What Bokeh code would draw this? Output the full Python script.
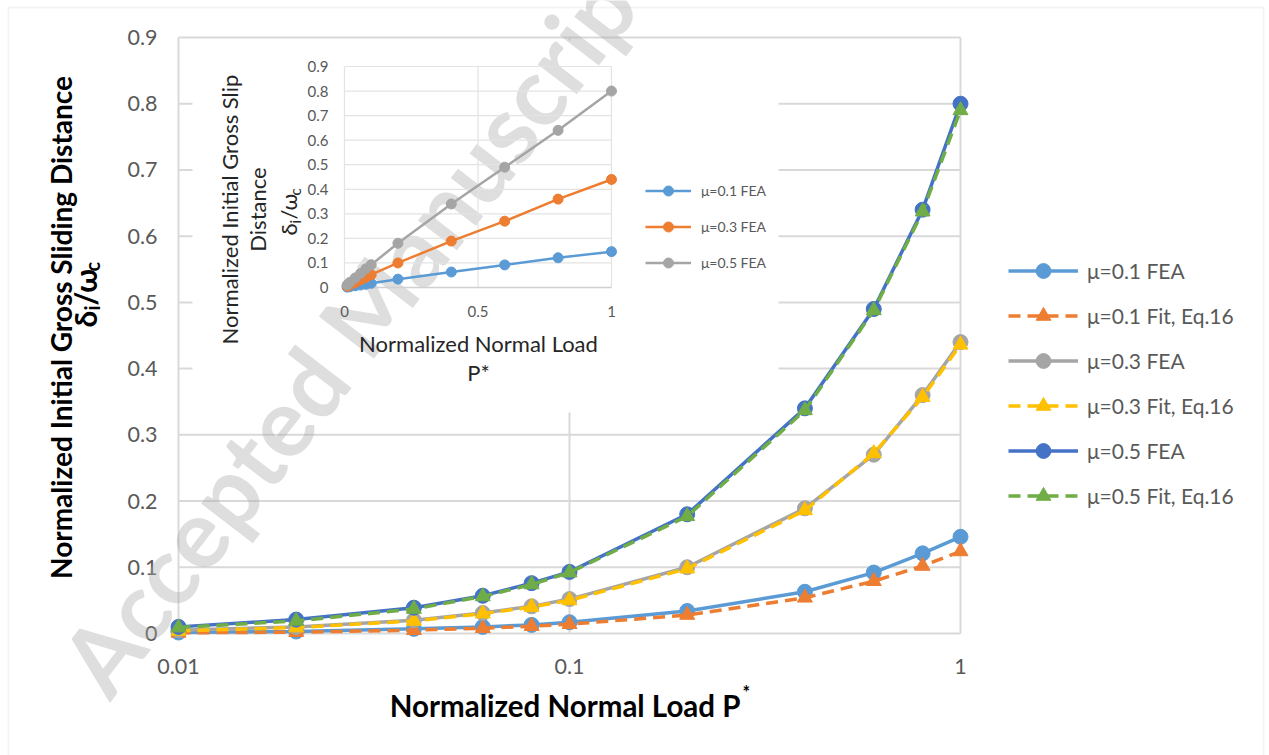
import math
from bokeh.plotting import figure
from bokeh.models import (Range1d, LinearScale, LogScale, Legend, LegendItem,
                          Label, BoxAnnotation)
from bokeh.core.properties import value
from bokeh.embed import file_html
from bokeh.resources import INLINE

# ---------------- data ----------------
P = [0.01, 0.02, 0.04, 0.06, 0.08, 0.1, 0.2, 0.4, 0.6, 0.8, 1.0]
mu01_fea = [0.0015, 0.003, 0.007, 0.010, 0.013, 0.017, 0.034, 0.063, 0.092, 0.121, 0.146]
mu01_fit = [0.001, 0.002, 0.005, 0.008, 0.011, 0.014, 0.028, 0.054, 0.079, 0.102, 0.124]
mu03_fea = [0.005, 0.010, 0.020, 0.031, 0.041, 0.052, 0.100, 0.189, 0.270, 0.360, 0.440]
mu03_fit = [0.004, 0.009, 0.019, 0.030, 0.040, 0.050, 0.098, 0.186, 0.272, 0.357, 0.436]
mu05_fea = [0.010, 0.021, 0.039, 0.057, 0.076, 0.093, 0.180, 0.340, 0.490, 0.640, 0.800]
mu05_fit = [0.009, 0.019, 0.037, 0.056, 0.074, 0.092, 0.177, 0.337, 0.488, 0.637, 0.790]

series_names = ["μ=0.1 FEA", "μ=0.1 Fit, Eq.16", "μ=0.3 FEA",
                "μ=0.3 Fit, Eq.16", "μ=0.5 FEA", "μ=0.5 Fit, Eq.16"]
inset_names = ["μ=0.1 FEA", "μ=0.3 FEA", "μ=0.5 FEA"]

X_TICKS = [0.01, 0.1, 1]
X_TICK_LABELS = ["0.01", "0.1", "1"]
Y_TICKS = [0, 0.1, 0.2, 0.3, 0.4, 0.5, 0.6, 0.7, 0.8, 0.9]
Y_TICK_LABELS = ["0", "0.1", "0.2", "0.3", "0.4", "0.5", "0.6", "0.7", "0.8", "0.9"]
INSET_X_TICKS = [0, 0.5, 1]
INSET_X_LABELS = ["0", "0.5", "1"]
INSET_Y_TICKS = [0, 0.1, 0.2, 0.3, 0.4, 0.5, 0.6, 0.7, 0.8, 0.9]
INSET_Y_LABELS = ["0", "0.1", "0.2", "0.3", "0.4", "0.5", "0.6", "0.7", "0.8", "0.9"]

# ---------------- layout constants (pixels) ----------------
W, H = 1269, 755
FL, FR, FT, FB = 178, 960, 37, 633          # main plot area
DEC = (FR - FL) / 2.0                        # px per decade
SY = (FB - FT) / 0.9                         # px per unit (main y)
IX0, IX1 = 344, 611                          # inset x=0 / x=1
IY0, IY9 = 287, 66                           # inset y=0 / y=0.9
ISX = IX1 - IX0
ISY = (IY0 - IY9) / 0.9

FONT = "Lato"
GRAY = "#595959"
GRID = "#d9d9d9"

p = figure(width=W, height=H, x_range=Range1d(0, W), y_range=Range1d(H, 0),
           x_axis_location=None, y_axis_location=None,
           output_backend="svg", toolbar_location=None,
           min_border=0, min_border_left=0, min_border_right=0,
           min_border_top=0, min_border_bottom=0)
p.outline_line_color = None
p.grid.visible = False
p.background_fill_color = "white"
p.border_fill_color = "white"

p.extra_x_ranges = {"main": Range1d(10 ** (-2 - FL / DEC), 10 ** ((W - FR) / DEC)),
                    "ins": Range1d(-IX0 / ISX, (W - IX0) / ISX)}
p.extra_y_ranges = {"main": Range1d((FB - H) / SY, FB / SY),
                    "ins": Range1d((IY0 - H) / ISY, IY0 / ISY)}
p.extra_x_scales = {"main": LogScale(), "ins": LinearScale()}
p.extra_y_scales = {"main": LinearScale(), "ins": LinearScale()}

def my(px):
    return (FB - px) / SY

def iy(px):
    return (IY0 - px) / ISY

M = dict(x_range_name="main", y_range_name="main")
I = dict(x_range_name="ins", y_range_name="ins")

# outer chart border
p.add_layout(BoxAnnotation(left=8, right=1263, top=7, bottom=H + 20,
                           fill_alpha=0, line_color=GRID, line_width=2,
                           level="underlay"))

# main grid + axis
p.segment(x0=[X_TICKS[0]] * len(Y_TICKS), x1=[X_TICKS[-1]] * len(Y_TICKS),
          y0=Y_TICKS, y1=Y_TICKS, line_color=GRID, line_width=2, **M)
p.segment(x0=X_TICKS, x1=X_TICKS, y0=[Y_TICKS[0]] * 3, y1=[Y_TICKS[-1]] * 3,
          line_color=GRID, line_width=2, **M)
p.text(x=[X_TICKS[0]] * len(Y_TICKS), y=Y_TICKS, text=Y_TICK_LABELS, x_offset=-21,
       text_align="right", text_baseline="middle", text_font=value(FONT),
       text_font_size="21.5px", text_color=GRAY, **M)
p.text(x=X_TICKS, y=[my(666)] * 3, text=X_TICK_LABELS,
       text_align="center", text_baseline="middle", text_font=value(FONT),
       text_font_size="21.5px", text_color=GRAY, **M)

# inset white background (covers main grid)
p.quad(left=[192], right=[778], top=[40], bottom=[412],
       fill_color="white", line_color=None)

# watermark
p.text(x=[357], y=[318], text=["Accepted Manuscript"], angle=52.5, angle_units="deg",
       text_align="center", text_baseline="middle", text_font=value(FONT),
       text_font_style="bold", text_font_size="96px",
       text_color="#a8a8a8", text_alpha=0.38)

# ---------------- inset ----------------
IGRID = "#e3e3e3"
p.segment(x0=[0] * 9, x1=[1] * 9, y0=INSET_Y_TICKS[1:], y1=INSET_Y_TICKS[1:],
          line_color=IGRID, line_width=1.2, **I)
p.segment(x0=INSET_X_TICKS, x1=INSET_X_TICKS, y0=[0] * 3, y1=[0.9] * 3,
          line_color=IGRID, line_width=1.2, **I)
p.segment(x0=[0], x1=[1], y0=[0], y1=[0], line_color="#d0d0d0", line_width=1.5, **I)

p.text(x=[0] * len(INSET_Y_TICKS), y=INSET_Y_TICKS, text=INSET_Y_LABELS,
       x_offset=-16, text_align="right", text_baseline="middle",
       text_font=value(FONT), text_font_size="15px", text_color=GRAY, **I)
p.text(x=INSET_X_TICKS, y=[iy(311)] * 3, text=INSET_X_LABELS,
       text_align="center", text_baseline="middle", text_font=value(FONT),
       text_font_size="15px", text_color=GRAY, **I)

icolors = ["#5B9BD5", "#ED7D31", "#A5A5A5"]
iys = [mu01_fea, mu03_fea, mu05_fea]
iitems = []
for yv, c, nm in zip(iys, icolors, inset_names):
    ln = p.line(P, yv, line_color=c, line_width=2.5, **I)
    mk = p.scatter(P, yv, marker="circle", size=10, fill_color=c, line_color=c, **I)
    iitems.append(LegendItem(label=nm, renderers=[ln, mk]))

# ---------------- main series ----------------
colors = ["#5B9BD5", "#ED7D31", "#A5A5A5", "#FFC000", "#4472C4", "#70AD47"]
ys = [mu01_fea, mu01_fit, mu03_fea, mu03_fit, mu05_fea, mu05_fit]
items = []
for i, (yv, c, nm) in enumerate(zip(ys, colors, series_names)):
    fit = (i % 2 == 1)
    ln = p.line(P, yv, line_color=c, line_width=3.5,
                line_dash="12 7" if fit else "solid", **M)
    mk = p.scatter(P, yv, marker="triangle" if fit else "circle",
                   size=15, fill_color=c, line_color=c, **M)
    items.append(LegendItem(label=nm, renderers=[ln, mk]))

leg = Legend(items=items, location=(1008, 241), orientation="vertical",
             label_text_font=FONT, label_text_font_size="21px",
             label_text_color=GRAY, glyph_width=70, glyph_height=37,
             label_height=37, spacing=8, label_standoff=9, padding=0,
             margin=0, border_line_color=None, background_fill_alpha=0)
p.add_layout(leg, "center")

ileg = Legend(items=iitems, location=(645, 480), orientation="vertical",
              label_text_font=FONT, label_text_font_size="14px",
              label_text_color=GRAY, glyph_width=46, glyph_height=25,
              label_height=25, spacing=11, label_standoff=10, padding=0,
              margin=0, border_line_color=None, background_fill_alpha=0)
p.add_layout(ileg, "center")

# ---------------- titles ----------------
TXT = "#262626"
def lab(x, y, t, size, **kw):
    d = dict(x=x, y=y, text=t, text_font=FONT, text_font_size=size)
    d.update(kw)
    p.add_layout(Label(**d))

ROT = dict(angle=90, angle_units="deg")
# inset titles
lab(229, 209, "Normalized Initial Gross Slip", "22px", text_align="center",
    text_baseline="alphabetic", text_color=TXT, **ROT)
lab(257, 209, "Distance", "22px", text_align="center",
    text_baseline="alphabetic", text_color=TXT, **ROT)
lab(288, 235, "δ", "22px", text_align="left", text_baseline="alphabetic",
    text_color=TXT, **ROT)
lab(294, 223, "i", "15px", text_align="left", text_baseline="alphabetic",
    text_color=TXT, **ROT)
lab(288, 219, "/ω", "22px", text_align="left", text_baseline="alphabetic",
    text_color=TXT, **ROT)
lab(294, 195, "c", "15px", text_align="left", text_baseline="alphabetic",
    text_color=TXT, **ROT)
lab(478, 343, "Normalized Normal Load", "22px", text_align="center",
    text_baseline="alphabetic", text_color=TXT)
lab(478, 372, "P*", "22px", text_align="center",
    text_baseline="alphabetic", text_color=TXT)

# main axis titles
B = dict(text_color="black", text_font_style="bold", text_baseline="alphabetic")
lab(60, 327, "Normalized Initial Gross Sliding Distance", "28px",
    text_align="center", **B, **ROT)
lab(84, 327, "δ", "30px", text_align="left", **B, **ROT)
lab(91, 310, "i", "20px", text_align="left", **B, **ROT)
lab(84, 305, "/ω", "30px", text_align="left", **B, **ROT)
lab(91, 271, "c", "20px", text_align="left", **B, **ROT)
lab(740, 705, "Normalized Normal Load P", "29.5px", text_align="right", **B)
lab(742, 691, "*", "18px", text_align="left", **B)

open("out.html", "w").write(file_html(p, INLINE))
